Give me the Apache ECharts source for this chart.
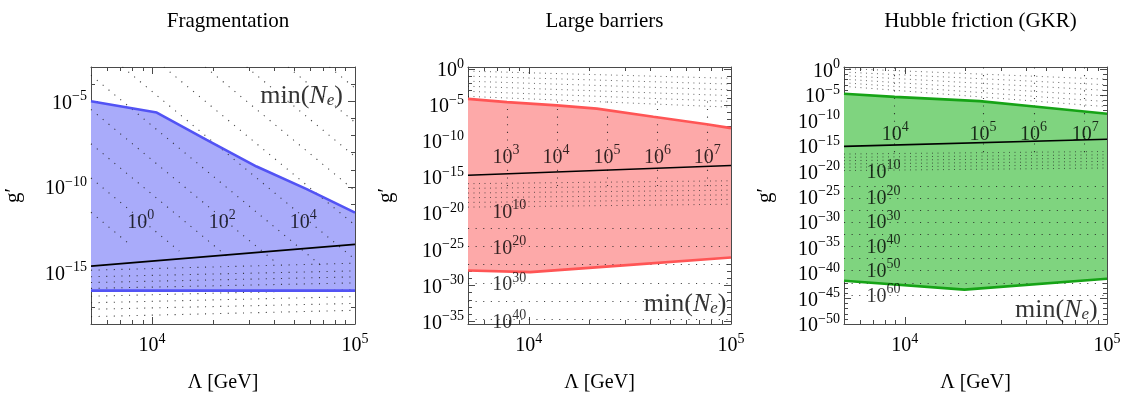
<!DOCTYPE html>
<html><head><meta charset="utf-8">
<script src="https://cdn.jsdelivr.net/npm/echarts@6/dist/echarts.min.js"></script>
<style>html,body{margin:0;padding:0;background:#fff}#c{width:1126px;height:398px}</style>
</head><body><div id="c"></div>
<script>
// ---------------- DATA (all values are log10 of the quantity) ----------------
// x axis: log10(Λ / GeV), 5×10^3 … 10^5
const xMin = 3.699, xMax = 5;
const xMajorTicks = [4, 5];
const xMinorTicksGeV = [6000, 7000, 8000, 9000, 20000, 30000, 40000, 50000, 60000, 70000, 80000, 90000];

const titles = ['Fragmentation', 'Large barriers', 'Hubble friction (GKR)'];
const yMins = [-18, -35.35, -50];
const yMaxs = [-3, 0.27, 0.5];
const yMajorTicks1 = [-15, -10, -5];
const yMajorTicks2 = [-35, -30, -25, -20, -15, -10, -5, 0];
const yMajorTicks3 = [-50, -45, -40, -35, -30, -25, -20, -15, -10, -5, 0];

// ---- Panel 1: Fragmentation ----
const fragUpperX = [3.699, 4.023, 4.269, 4.515, 4.762, 5.0];
const fragUpperY = [-5.0, -5.66, -7.25, -8.81, -10.13, -11.5];
const fragLowerX = [3.699, 5.0];
const fragLowerY = [-16.05, -16.05];
const fragBlackX = [3.699, 5.0];
const fragBlackY = [-14.62, -13.35];
// dotted N_e contours: [x1, y1, x2, y2]
const fragDiag = [
  [3.699, -11.48, 3.901, -13.46], [3.699, -9.48, 4.134, -13.74], [3.699, -7.48, 4.366, -14.02],
  [3.699, -5.48, 4.599, -14.30], [3.699, -3.48, 4.831, -14.57], [3.854, -3, 5, -14.23],
  [4.058, -3, 5, -12.23], [4.262, -3, 5, -10.23], [4.466, -3, 5, -8.23],
  [4.670, -3, 5, -6.23], [4.874, -3, 5, -4.23]
];
const fragRowsLeft  = [-14.86, -15.24, -15.58, -15.92, -16.38, -16.76, -17.14, -17.57];
const fragRowsRight = [-14.45, -14.90, -15.25, -15.60, -16.00, -16.40, -16.80, -17.20];
const fragLabelX = [3.944, 4.346, 4.745];
const fragLabelY = [-11.95, -11.95, -11.95];
const fragLabelN = [0, 2, 4];
const fragMinPos = [4.737, -4.59];

// ---- Panel 2: Large barriers ----
const barUpperX = [3.699, 3.892, 4.139, 4.336, 4.616, 4.88, 5.0];
const barUpperY = [-4.15, -4.6, -5.05, -5.5, -6.62, -7.66, -8.2];
const barLowerX = [3.699, 4.007, 4.451, 5.0];
const barLowerY = [-27.93, -28.16, -27.26, -26.13];
const barBlackX = [3.699, 5.0];
const barBlackY = [-14.73, -13.38];
const barTopLeft  = [-0.3, -1.0, -1.7, -2.4, -3.1, -3.8];
const barTopRight = [-1.3, -2.1, -2.9, -3.7, -4.5, -5.3];
const barVertX = [3.892, 4.139, 4.386, 4.636, 4.883];
const barVertTop = -4.5, barVertBottom = -17.0;
const barBandLeft  = [-15.9, -16.55, -17.2, -17.85, -18.5, -19.15];
const barBandRight = [-15.5, -16.15, -16.8, -17.45, -18.1, -18.75];
const barRows = [-22.1, -24.6, -27.1, -29.7, -32.2, -34.7];
const barLabelX = [3.887, 4.134, 4.386, 4.636, 4.883, 3.903, 3.903, 3.903, 3.903];
const barLabelY = [-12.03, -12.03, -12.03, -12.03, -12.03, -19.6, -24.65, -29.7, -34.9];
const barLabelN = [3, 4, 5, 6, 7, 10, 20, 30, 40];
const barMinPos = [4.773, -32.3];

// ---- Panel 3: Hubble friction (GKR) ----
const hubUpperX = [3.699, 3.95, 4.37, 4.64, 5.0];
const hubUpperY = [-4.76, -5.37, -6.2, -7.25, -8.69];
const hubLowerX = [3.699, 4.295, 5.0];
const hubLowerY = [-41.5, -43.25, -41.1];
const hubBlackX = [3.699, 5.0];
const hubBlackY = [-15.1, -13.7];
const hubTopLeft  = [0.2, -0.5, -1.2, -1.9, -2.6, -3.3];
const hubTopRight = [-1.9, -3.0, -4.1, -5.2, -6.3, -7.3];
const hubVertX = [3.95, 4.386, 4.638, 4.889];
const hubVertTop = 0.4, hubVertBottom = -16.9;
const hubBandLeft  = [-16.6, -17.25, -17.9, -18.55, -19.2, -19.85];
const hubBandRight = [-16.1, -16.75, -17.4, -18.05, -18.7, -19.35];
const hubRows = [-22.9, -25.2, -27.7, -30.1, -32.4, -34.8, -37.1, -39.5, -41.9, -44.4];
const hubLabelX = [3.953, 4.386, 4.637, 4.892, 3.895, 3.895, 3.895, 3.895, 3.895, 3.895];
const hubLabelY = [-12.4, -12.4, -12.4, -12.4, -19.9, -24.95, -29.75, -34.57, -39.26, -44.26];
const hubLabelN = [4, 5, 6, 7, 10, 20, 30, 40, 50, 60];
const hubMinPos = [4.749, -46.94];

// ---------------- STYLE / LAYOUT ----------------
const F = "'Liberation Serif','Times New Roman',serif";
const FRAME = '#4a4a4a';
const gridLefts = [91, 468, 844], gridWidths = [264, 263, 263], gridTop = 67, gridH = 264;
const nameGaps = [67, 71, 68];
const fills = ['#a9abfa', '#fda9a9', '#7fd47f'];
const strokes = ['#5253f4', '#ff5555', '#16a316'];

function powLabel(n) { return '{b|10}{s|' + (n < 0 ? '\u2212' + (-n) : n) + '}'; }
const richPow = {
  b: { fontFamily: F, fontSize: 20, lineHeight: 24, verticalAlign: 'bottom', color: '#000' },
  s: { fontFamily: F, fontSize: 14, lineHeight: 14, verticalAlign: 'top', color: '#000' }
};
const richMin = {
  t: { fontFamily: F, fontSize: 26, lineHeight: 30, verticalAlign: 'bottom', color: '#000' },
  i: { fontFamily: F, fontStyle: 'italic', fontSize: 26, lineHeight: 30, verticalAlign: 'bottom', color: '#000' },
  e: { fontFamily: F, fontStyle: 'italic', fontSize: 17, lineHeight: 17, verticalAlign: 'bottom', color: '#000' }
};

const xMinorLog = xMinorTicksGeV.map(v => Math.log10(v));
function decadeTicks(lo, hi) { const a = []; for (let k = Math.ceil(lo); k <= Math.floor(hi); k++) a.push(k); return a; }

function seg(x1, y1, x2, y2) { return { coords: [[x1, y1], [x2, y2]] }; }
function zip(xs, ys) { return xs.map((x, i) => [x, ys[i]]); }

const panels = [
  { upX: fragUpperX, upY: fragUpperY, loX: fragLowerX, loY: fragLowerY, bkX: fragBlackX, bkY: fragBlackY,
    sparse: fragDiag.map(s => seg(s[0], s[1], s[2], s[3])).concat(fragRowsLeft.map((l, i) => seg(xMin, l, xMax, fragRowsRight[i]))),
    dense: [],
    labX: fragLabelX, labY: fragLabelY, labN: fragLabelN, minPos: fragMinPos, major: yMajorTicks1 },
  { upX: barUpperX, upY: barUpperY, loX: barLowerX, loY: barLowerY, bkX: barBlackX, bkY: barBlackY,
    sparse: barVertX.map(x => seg(x, barVertTop, x, barVertBottom)).concat(barRows.map(r => seg(xMin, r, xMax, r))),
    dense: barTopLeft.map((l, i) => seg(xMin, l, xMax, barTopRight[i])).concat(barBandLeft.map((l, i) => seg(xMin, l, xMax, barBandRight[i]))),
    labX: barLabelX, labY: barLabelY, labN: barLabelN, minPos: barMinPos, major: yMajorTicks2 },
  { upX: hubUpperX, upY: hubUpperY, loX: hubLowerX, loY: hubLowerY, bkX: hubBlackX, bkY: hubBlackY,
    sparse: hubVertX.map(x => seg(x, hubVertTop, x, hubVertBottom)).concat(hubRows.map(r => seg(xMin, r, xMax, r))),
    dense: hubTopLeft.map((l, i) => seg(xMin, l, xMax, hubTopRight[i])).concat(hubBandLeft.map((l, i) => seg(xMin, l, xMax, hubBandRight[i]))),
    labX: hubLabelX, labY: hubLabelY, labN: hubLabelN, minPos: hubMinPos, major: yMajorTicks3 }
];

const option = { animation: false, backgroundColor: '#fff', title: [], grid: [], xAxis: [], yAxis: [], series: [] };

panels.forEach((P, p) => {
  const left = gridLefts[p], w = gridWidths[p];
  option.title.push({ text: titles[p], left: left + w / 2, top: 6, textAlign: 'center',
    textStyle: { fontFamily: F, fontSize: 21, fontWeight: 'normal', color: '#000' } });
  option.grid.push({ left: left, top: gridTop, width: w, height: gridH, containLabel: false });

  const tickStyle = { color: FRAME, width: 1 };
  const xBase = (pos, lineOn, ticks, len) => ({
    type: 'value', gridIndex: p, position: pos, min: xMin, max: xMax,
    splitLine: { show: false },
    axisLine: { show: lineOn, onZero: false, lineStyle: { color: FRAME, width: 1 } },
    axisTick: { show: true, inside: true, length: len, customValues: ticks, lineStyle: tickStyle },
    axisLabel: { show: false }
  });
  const xMain = xBase('bottom', true, xMajorTicks, 7);
  xMain.axisLabel = { show: true, customValues: xMajorTicks, margin: 8, formatter: v => powLabel(Math.round(v)), rich: richPow };
  xMain.name = 'Λ [GeV]';
  xMain.nameLocation = 'middle';
  xMain.nameGap = 49;
  xMain.nameTextStyle = { fontFamily: F, fontSize: 20, color: '#000' };
  option.xAxis.push(xMain, xBase('bottom', false, xMinorLog, 4), xBase('top', true, xMajorTicks, 7), xBase('top', false, xMinorLog, 4));

  const minor = decadeTicks(yMins[p], yMaxs[p]);
  const yBase = (pos, lineOn, ticks, len) => ({
    type: 'value', gridIndex: p, position: pos, min: yMins[p], max: yMaxs[p],
    splitLine: { show: false },
    axisLine: { show: lineOn, onZero: false, lineStyle: { color: FRAME, width: 1 } },
    axisTick: { show: true, inside: true, length: len, customValues: ticks, lineStyle: tickStyle },
    axisLabel: { show: false }
  });
  const yMain = yBase('left', true, P.major, 7);
  yMain.axisLabel = { show: true, customValues: P.major, margin: 4, formatter: v => powLabel(Math.round(v)), rich: richPow };
  yMain.name = 'g\u2032';
  yMain.nameLocation = 'middle';
  yMain.nameRotate = 90;
  yMain.nameGap = nameGaps[p];
  yMain.nameTextStyle = { fontFamily: F, fontSize: 21, color: '#000' };
  option.yAxis.push(yMain, yBase('left', false, minor, 4), yBase('right', true, P.major, 7), yBase('right', false, minor, 4));

  const ax = { xAxisIndex: 4 * p, yAxisIndex: 4 * p };
  const upper = zip(P.upX, P.upY), lower = zip(P.loX, P.loY);

  option.series.push(Object.assign({
    type: 'custom', coordinateSystem: 'cartesian2d', silent: true, z: 1, clip: true,
    data: [upper[0]],
    renderItem: (params, api) => {
      const pts = upper.map(d => api.coord(d)).concat(lower.slice().reverse().map(d => api.coord(d)));
      return { type: 'polygon', shape: { points: pts }, style: { fill: fills[p] } };
    }
  }, ax));

  option.series.push(Object.assign({
    type: 'lines', coordinateSystem: 'cartesian2d', silent: true, z: 3, clip: true,
    data: P.sparse, lineStyle: { color: '#222', width: 1.1, type: [1.1, 6.5], opacity: 0.85 }
  }, ax));
  if (P.dense.length) option.series.push(Object.assign({
    type: 'lines', coordinateSystem: 'cartesian2d', silent: true, z: 3, clip: true,
    data: P.dense, lineStyle: { color: '#222', width: 1, type: [1, 4.5], opacity: 0.7 }
  }, ax));

  [upper, lower].forEach(d => option.series.push(Object.assign({
    type: 'line', data: d, showSymbol: false, silent: true, z: 4,
    lineStyle: { color: strokes[p], width: 2.6 }
  }, ax)));
  option.series.push(Object.assign({
    type: 'line', data: zip(P.bkX, P.bkY), showSymbol: false, silent: true, z: 5,
    lineStyle: { color: '#000', width: 1.7 }
  }, ax));

  option.series.push(Object.assign({
    type: 'scatter', silent: true, z: 6, symbolSize: 1, itemStyle: { color: 'rgba(0,0,0,0)' },
    data: P.labX.map((x, i) => [x, P.labY[i], P.labN[i]]),
    label: { show: true, position: 'inside', formatter: q => powLabel(q.value[2]), rich: richPow }
  }, ax));
  option.series.push(Object.assign({
    type: 'scatter', silent: true, z: 6, symbolSize: 1, itemStyle: { color: 'rgba(0,0,0,0)' },
    data: [P.minPos],
    label: { show: true, position: 'inside', formatter: '{t|min(}{i|N}{e|e}{t|)}', rich: richMin }
  }, ax));
});

const chart = echarts.init(document.getElementById('c'), null, { renderer: 'canvas' });
chart.setOption(option);
</script>
</body></html>
